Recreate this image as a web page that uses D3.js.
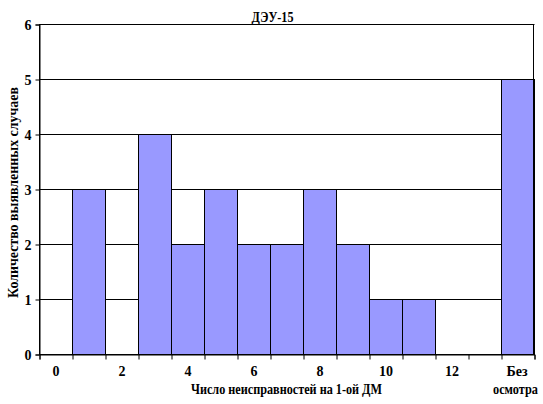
<!DOCTYPE html>
<html>
<head>
<meta charset="utf-8">
<script src="https://cdn.jsdelivr.net/npm/d3@7"></script>
<style>
  html, body { margin: 0; padding: 0; background: #fff; }
  svg { display: block; }
</style>
</head>
<body>
<svg id="chart" width="543" height="404"></svg>
<script>
const categories = ["0","1","2","3","4","5","6","7","8","9","10","11","12","13","Без осмотра"];
const values = [0, 3, 0, 4, 2, 3, 2, 2, 3, 2, 1, 1, 0, 0, 5];
const xTickLabels = ["0","2","4","6","8","10","12","Без осмотра"];
const yTicks = [0, 1, 2, 3, 4, 5, 6];
const chartTitle = "ДЭУ-15";
const xTitle = "Число неисправностей на 1-ой ДМ";
const yTitle = "Количество выявленных случаев";

(function () {
const FONT = "'Liberation Serif', 'Times New Roman', 'DejaVu Serif', serif";
const svg = d3.select("#chart");
const pLeft = 39, pRight = 534, pTop = 24, pBottom = 354;

const x = d3.scaleBand().domain(categories).range([pLeft, pRight]).padding(0);
const y = d3.scaleLinear().domain([0, 6]).range([pBottom, pTop]);

const g = svg.append("g").attr("transform", "translate(0.5,0.5)");

// gridlines
g.append("g").selectAll("line").data(yTicks).join("line")
  .attr("x1", pLeft).attr("x2", pRight)
  .attr("y1", d => y(d)).attr("y2", d => y(d))
  .attr("stroke", "#000").attr("stroke-width", 1);

// bars
g.append("g").selectAll("rect").data(categories.map((c, i) => ({c, v: values[i]})).filter(d => d.v > 0)).join("rect")
  .attr("x", d => x(d.c)).attr("width", x.bandwidth())
  .attr("y", d => y(d.v)).attr("height", d => y(0) - y(d.v))
  .attr("fill", "#9999FF").attr("stroke", "#000").attr("stroke-width", 1);

// frame
g.append("rect").attr("x", pLeft).attr("y", pTop).attr("width", pRight - pLeft - 1).attr("height", pBottom - pTop)
  .attr("fill", "none").attr("stroke", "#000");

// y axis
const yAxis = d3.axisLeft(y).tickValues(yTicks).tickSize(4).tickPadding(4).tickFormat(d3.format("d"));
const ya = g.append("g").attr("transform", `translate(${pLeft},0)`).call(yAxis);
ya.select(".domain").attr("stroke", "#000");
ya.selectAll("line").attr("stroke", "#000");
ya.selectAll("text").attr("font-family", FONT).attr("font-weight", "bold").attr("font-size", 14).attr("fill", "#000").attr("dy", "0.35em");

// x axis tick marks at band boundaries
const xb = d3.scaleLinear().domain([0, categories.length]).range([pLeft, pRight]);
const xa = g.append("g").attr("transform", `translate(0,${pBottom})`)
  .call(d3.axisBottom(xb).tickValues(d3.range(categories.length + 1)).tickSize(5).tickFormat(""));
xa.select(".domain").attr("stroke", "#000");
xa.selectAll("line").attr("stroke", "#000");

const txt = sel => sel.attr("font-family", FONT).attr("font-weight", "bold").attr("font-size", 14).attr("fill", "#000");

// x tick labels
const lab = svg.append("g").selectAll("text").data(xTickLabels).join("text")
  .attr("text-anchor", "middle").call(txt);
lab.each(function(d) {
  const t = d3.select(this);
  const cx = x(d) + x.bandwidth() / 2 + 0.5;
  if (d.indexOf(" ") >= 0) {
    const parts = d.split(" ");
    t.append("tspan").attr("x", cx - 1).attr("y", 376).text(parts[0]);
    t.append("tspan").attr("x", cx - 2.5).attr("y", 394).attr("textLength", 45).attr("lengthAdjust", "spacingAndGlyphs").text(parts[1]);
  } else {
    t.attr("x", cx).attr("y", 376).text(d);
  }
});

// title
svg.append("text").attr("x", 272.5).attr("y", 22).attr("text-anchor", "middle").call(txt)
  .attr("textLength", 42).attr("lengthAdjust", "spacingAndGlyphs").text(chartTitle);

// x title
svg.append("text").attr("x", 286.5).attr("y", 394).attr("text-anchor", "middle").call(txt)
  .attr("textLength", 191).attr("lengthAdjust", "spacingAndGlyphs").text(xTitle);

// y title
svg.append("text").attr("transform", "translate(18,192.5) rotate(-90)").attr("text-anchor", "middle").call(txt)
  .attr("textLength", 211).attr("lengthAdjust", "spacingAndGlyphs").text(yTitle);
})();
</script>
</body>
</html>
